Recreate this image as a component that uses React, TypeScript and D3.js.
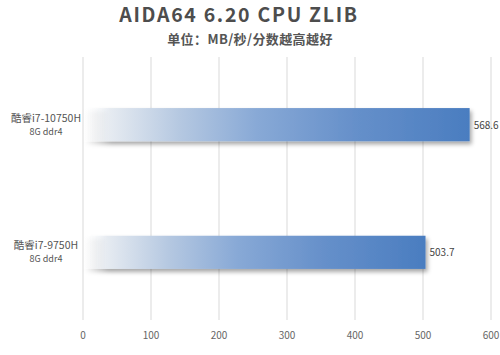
import React from "react";
import * as d3 from "d3";

const categories = ["酷睿i7-10750H", "酷睿i7-9750H"];
const subLabels = ["8G ddr4", "8G ddr4"];
const values = [568.6, 503.7];
const ticks = [0, 100, 200, 300, 400, 500, 600];
const title = "AIDA64 6.20 CPU ZLIB";
const subtitle = "单位：MB/秒/分数越高越好";

const W = 500, H = 355;
const margin = { left: 83, right: 9, top: 57, bottom: 35 };

export default function App() {
  const x = d3.scaleLinear().domain([0, 600]).range([margin.left, W - margin.right]);
  const y = d3.scaleBand<string>().domain(categories).range([margin.top, H - margin.bottom]).paddingInner(0.74).paddingOuter(0.4);
  const font = "'Noto Sans CJK SC', 'Open Sans', sans-serif";
  return (
    <svg width={W} height={H} style={{ position: "absolute", left: 0, top: 0, background: "#fff" }}>
      <defs>
        <linearGradient id="barGrad" x1="0" x2="1" y1="0" y2="0">
          <stop offset="0" stopColor="#ffffff" stopOpacity="0" />
          <stop offset="0.07" stopColor="#e6ebf1" />
          <stop offset="0.25" stopColor="#b5c8e1" />
          <stop offset="0.45" stopColor="#88a9d6" />
          <stop offset="0.7" stopColor="#6690ca" />
          <stop offset="1" stopColor="#4a7dc0" />
        </linearGradient>
        <filter id="shadow" x="-5%" y="-30%" width="115%" height="180%">
          <feDropShadow dx="2" dy="3" stdDeviation="2" floodColor="#000" floodOpacity="0.35" />
        </filter>
      </defs>
      <text x={239} y={22} textAnchor="middle" fontFamily={font} fontWeight="bold" fontSize={19.5} fill="#4d4d4d" letterSpacing="1.7">{title}</text>
      <text x={250} y={44} textAnchor="middle" fontFamily={font} fontWeight="bold" fontSize={13} fill="#555" letterSpacing="0.4">{subtitle}</text>
      {ticks.map((t) => (
        <g key={t}>
          <line x1={x(t)} x2={x(t)} y1={margin.top} y2={H - margin.bottom} stroke="#d9d9d9" strokeWidth={1} />
          <text x={x(t)} y={339} textAnchor="middle" fontFamily={font} fontSize={10} fill="#666">{t}</text>
        </g>
      ))}
      {categories.map((c, i) => {
        const by = y(c)!;
        const bh = y.bandwidth();
        return (
          <g key={c}>
            <rect x={x(0)} y={by} width={x(values[i]) - x(0)} height={bh} fill="url(#barGrad)" filter="url(#shadow)" />
            <text x={x(values[i]) + 4} y={by + bh / 2 + 4} fontFamily={font} fontSize={10} fill="#444">{values[i]}</text>
            <text x={46} y={by + bh / 2 - 3} textAnchor="middle" fontFamily={font} fontSize={10.5} fill="#555">{c}</text>
            <text x={46} y={by + bh / 2 + 10} textAnchor="middle" fontFamily={font} fontSize={9} fill="#555">{subLabels[i]}</text>
          </g>
        );
      })}
    </svg>
  );
}
